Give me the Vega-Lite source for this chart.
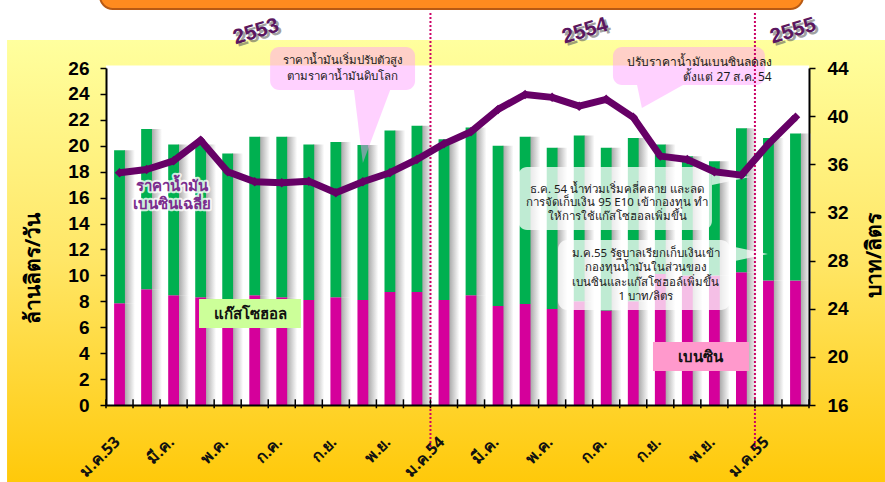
{
  "$schema": "https://vega.github.io/schema/vega-lite/v6.json",
  "width": 703,
  "height": 337,
  "autosize": "none",
  "padding": {"left": 106, "top": 68, "right": 76, "bottom": 77},
  "background": "white",
  "config": {"view": {"stroke": null}},
  "datasets": {
    "months": [
      {"i":0,"benzin":7.85,"gasohol":11.8,"price":35.3},
      {"i":1,"benzin":8.93,"gasohol":12.37,"price":35.57},
      {"i":2,"benzin":8.47,"gasohol":11.63,"price":36.29},
      {"i":3,"benzin":8.31,"gasohol":11.79,"price":38.0},
      {"i":4,"benzin":8.1,"gasohol":11.3,"price":35.38},
      {"i":5,"benzin":8.47,"gasohol":12.23,"price":34.55},
      {"i":6,"benzin":8.31,"gasohol":12.39,"price":34.47},
      {"i":7,"benzin":8.1,"gasohol":12.0,"price":34.6},
      {"i":8,"benzin":8.31,"gasohol":11.99,"price":33.63},
      {"i":9,"benzin":8.1,"gasohol":11.96,"price":34.55},
      {"i":10,"benzin":8.72,"gasohol":12.45,"price":35.3},
      {"i":11,"benzin":8.72,"gasohol":12.83,"price":36.4},
      {"i":12,"benzin":8.1,"gasohol":12.4,"price":37.7},
      {"i":13,"benzin":8.47,"gasohol":12.93,"price":38.7},
      {"i":14,"benzin":7.64,"gasohol":12.36,"price":40.56},
      {"i":15,"benzin":7.79,"gasohol":12.91,"price":41.8},
      {"i":16,"benzin":7.41,"gasohol":12.44,"price":41.56},
      {"i":17,"benzin":8.0,"gasohol":12.8,"price":40.83},
      {"i":18,"benzin":7.3,"gasohol":12.55,"price":41.4},
      {"i":19,"benzin":8.0,"gasohol":12.6,"price":39.9},
      {"i":20,"benzin":10.1,"gasohol":10.0,"price":36.68},
      {"i":21,"benzin":10.0,"gasohol":9.2,"price":36.4},
      {"i":22,"benzin":10.0,"gasohol":8.8,"price":35.38},
      {"i":23,"benzin":10.24,"gasohol":11.11,"price":35.1},
      {"i":24,"benzin":9.6,"gasohol":11.0,"price":37.68},
      {"i":25,"benzin":9.6,"gasohol":11.35,"price":39.9}
    ],
    "boxes": [
      {"kind":"pink","x":6.07,"x2":11.43,"y":27.62,"y2":24.30},
      {"kind":"pink","x":18.75,"x2":24.37,"y":27.62,"y2":24.69},
      {"kind":"note","x":15.24,"x2":22.41,"y":18.36,"y2":13.50},
      {"kind":"note","x":16.72,"x2":23.08,"y":12.73,"y2":7.33}
    ],
    "vptr": [
      {"id":"p1","x":9.17,"y":24.30,"y2":24.30},
      {"id":"p1","x":9.50,"y":24.30,"y2":18.67},
      {"id":"p1","x":10.51,"y":24.30,"y2":24.30},
      {"id":"p2","x":19.64,"y":24.69,"y2":24.69},
      {"id":"p2","x":19.82,"y":24.69,"y2":22.91},
      {"id":"p2","x":21.34,"y":24.69,"y2":24.69}
    ],
    "hptr": [
      {"id":"p3","y":18.05,"x":22.41,"x2":22.41},
      {"id":"p3","y":17.59,"x":22.41,"x2":23.82},
      {"id":"p3","y":16.97,"x":22.41,"x2":22.41},
      {"id":"p4","y":12.27,"x":23.08,"x2":23.08},
      {"id":"p4","y":11.65,"x":23.08,"x2":24.48},
      {"id":"p4","y":11.03,"x":23.08,"x2":23.08}
    ],
    "labelboxes": [
      {"fuel":"แก๊สโซฮอล","x":3.44,"x2":7.21,"y":8.18,"y2":5.94},
      {"fuel":"เบนซิน","x":20.23,"x2":23.78,"y":4.86,"y2":2.62}
    ],
    "notesC": [
      {"x":8.76,"y":26.54,"t":"ราคาน้ำมันเริ่มปรับตัวสูง"},
      {"x":8.76,"y":25.31,"t":"ตามราคาน้ำมันดิบโลก"},
      {"x":18.90,"y":16.62,"t":"ธ.ค. 54 น้ำท่วมเริ่มคลี่คลาย และลด"},
      {"x":18.90,"y":15.55,"t":"การจัดเก็บเงิน 95 E10 เข้ากองทุน ทำ"},
      {"x":18.90,"y":14.47,"t":"ให้การใช้แก๊สโซฮอลเพิ่มขึ้น"},
      {"x":19.97,"y":11.68,"t":"ม.ค.55 รัฐบาลเรียกเก็บเงินเข้า"},
      {"x":19.97,"y":10.57,"t":"กองทุนน้ำมันในส่วนของ"},
      {"x":19.97,"y":9.43,"t":"เบนซินและแก๊สโซฮอล์เพิ่มขึ้น"},
      {"x":19.97,"y":8.31,"t":"1 บาท/ลิตร"}
    ],
    "notesR": [
      {"x":24.62,"y":26.50,"t":"ปรับราคาน้ำมันเบนซินลดลง"},
      {"x":24.62,"y":25.27,"t":"ตั้งแต่ 27 ส.ค. 54"}
    ],
    "seriesLabels": [
      {"x":2.44,"y":16.93,"t":"ราคาน้ำมัน"},
      {"x":2.44,"y":15.48,"t":"เบนซินเฉลี่ย"}
    ],
    "fuelLabels": [
      {"x":5.33,"y":7.02,"t":"แก๊สโซฮอล"},
      {"x":22.0,"y":3.70,"t":"เบนซิน"}
    ],
    "years": [
      {"x":5.55,"y":28.78,"t":"2553"},
      {"x":17.72,"y":28.85,"t":"2554"},
      {"x":25.41,"y":28.85,"t":"2555"}
    ],
    "yearLines": [{"x":12},{"x":24}]
  },
  "layer": [
    {
      "data": {"values": [{}]},
      "layer": [
        {
          "mark": {"type": "rect", "clip": false, "fill": {"gradient": "linear", "x1": 0, "y1": 0, "x2": 0, "y2": 1, "stops": [{"offset": 0, "color": "#FFFF9E"}, {"offset": 0.5, "color": "#FFE666"}, {"offset": 1, "color": "#FFC90A"}]}},
          "encoding": {
            "x": {"datum": -3.66, "type": "quantitative", "scale": {"domain": [0, 26], "nice": false, "zero": false}, "axis": null},
            "x2": {"datum": 28.81},
            "y": {"datum": 28.16, "type": "quantitative", "scale": {"domain": [0, 26], "nice": false, "zero": false}, "axis": null},
            "y2": {"datum": -5.94}
          }
        },
        {
          "mark": {"type": "rect", "clip": false, "fill": "#FF8B1F", "stroke": "#B85A14", "strokeWidth": 2, "cornerRadius": 16},
          "encoding": {
            "x": {"datum": -0.22, "type": "quantitative", "axis": null},
            "x2": {"datum": 25.78},
            "y": {"datum": 32.5, "type": "quantitative", "axis": null},
            "y2": {"datum": 30.55}
          }
        },
        {
          "mark": {"type": "rect", "clip": false, "fill": "white"},
          "encoding": {
            "x": {"datum": 0, "type": "quantitative", "axis": null},
            "x2": {"datum": 26},
            "y": {"datum": 26.19, "type": "quantitative", "axis": null},
            "y2": {"datum": 0}
          }
        }
      ]
    },
    {
      "data": {"name": "months"},
      "transform": [{"fold": ["benzin", "gasohol"], "as": ["fuel", "vol"]}],
      "encoding": {
        "x": {
          "field": "i", "type": "ordinal",
          "scale": {"paddingInner": 0.6, "paddingOuter": 0.3},
          "axis": {
            "orient": "bottom", "title": null, "zindex": 1,
            "labelExpr": "['ม.ค.53','','มี.ค.','','พ.ค.','','ก.ค.','','ก.ย.','','พ.ย.','','ม.ค.54','','มี.ค.','','พ.ค.','','ก.ค.','','ก.ย.','','พ.ย.','','ม.ค.55',''][datum.value]",
            "labelAngle": -45, "labelAlign": "right", "labelBaseline": "middle",
            "labelFont": "Noto Sans", "labelFontSize": 16, "labelFontWeight": "bold", "labelColor": "#111111",
            "labelPadding": 34, "labelOffset": -2, "labelOverlap": false,
            "ticks": false,
            "domainColor": "black", "domainWidth": 2, "grid": false
          }
        },
        "y": {
          "field": "vol", "type": "quantitative", "stack": "zero",
          "scale": {"domain": [0, 26], "nice": false},
          "axis": {
            "orient": "left", "title": "ล้านลิตร/วัน", "zindex": 1, "values": [0,2,4,6,8,10,12,14,16,18,20,22,24,26],
            "titleFont": "Noto Sans", "titleFontSize": 21, "titleFontWeight": "bold", "titleColor": "black",
            "titleAngle": -90, "titleX": -73, "titleY": 200, "titleAlign": "center", "titleBaseline": "middle",
            "labelFont": "Liberation Sans", "labelFontSize": 19, "labelFontWeight": "bold", "labelColor": "black",
            "labelPadding": 11, "tickSize": 6, "tickColor": "black", "tickWidth": 1.5,
            "domainColor": "black", "domainWidth": 2, "grid": false
          }
        },
        "order": {"field": "fuel", "sort": "ascending"}
      },
      "layer": [
        {
          "mark": {"type": "bar", "xOffset": 10, "opacity": 0.8, "fill": {"gradient": "linear", "x1": 0, "y1": 0, "x2": 1, "y2": 0, "stops": [{"offset": 0, "color": "#8c8c8c"}, {"offset": 1, "color": "#ffffff"}]}}
        },
        {
          "mark": {"type": "bar"},
          "encoding": {
            "color": {"field": "fuel", "type": "nominal", "scale": {"domain": ["benzin", "gasohol"], "range": ["#D5009B", "#00B050"]}, "legend": null}
          }
        }
      ]
    },
    {
      "resolve": {"scale": {"fill": "independent", "opacity": "independent"}},
      "layer": [
        {
          "data": {"name": "boxes"},
          "mark": {"type": "rect", "clip": false, "cornerRadius": 9},
          "encoding": {
            "x": {"field": "x", "type": "quantitative", "scale": {"domain": [0, 26], "nice": false, "zero": false}, "axis": null},
            "x2": {"field": "x2"},
            "y": {"field": "y", "type": "quantitative", "scale": {"domain": [0, 26], "nice": false, "zero": false}, "axis": null},
            "y2": {"field": "y2"},
            "fill": {"field": "kind", "type": "nominal", "scale": {"domain": ["pink", "note"], "range": ["#FF99FF", "#FFFFFF"]}, "legend": null},
            "opacity": {"field": "kind", "type": "nominal", "scale": {"domain": ["pink", "note"], "range": [0.45, 0.75]}, "legend": null}
          }
        },
        {
          "data": {"name": "vptr"},
          "mark": {"type": "area", "clip": false, "orient": "vertical", "color": "#FF99FF", "opacity": 0.45},
          "encoding": {
            "x": {"field": "x", "type": "quantitative", "axis": null},
            "y": {"field": "y", "type": "quantitative", "axis": null},
            "y2": {"field": "y2"},
            "detail": {"field": "id"}
          }
        },
        {
          "data": {"name": "hptr"},
          "mark": {"type": "area", "clip": false, "orient": "horizontal", "color": "#FFFFFF", "opacity": 0.75},
          "encoding": {
            "y": {"field": "y", "type": "quantitative", "axis": null},
            "x": {"field": "x", "type": "quantitative", "axis": null},
            "x2": {"field": "x2"},
            "detail": {"field": "id"}
          }
        },
        {
          "data": {"name": "labelboxes"},
          "mark": {"type": "rect", "clip": false},
          "encoding": {
            "x": {"field": "x", "type": "quantitative", "axis": null},
            "x2": {"field": "x2"},
            "y": {"field": "y", "type": "quantitative", "axis": null},
            "y2": {"field": "y2"},
            "fill": {"field": "fuel", "type": "nominal", "scale": {"domain": ["แก๊สโซฮอล", "เบนซิน"], "range": ["#CCFF99", "#FF99CC"]}, "legend": null}
          }
        },
        {
          "data": {"name": "yearLines"},
          "mark": {"type": "rule", "clip": false, "color": "#CC0066", "strokeWidth": 2, "strokeDash": [2, 2]},
          "encoding": {
            "x": {"field": "x", "type": "quantitative", "axis": null},
            "y": {"datum": 30.25, "type": "quantitative", "axis": null},
            "y2": {"datum": -3.24}
          }
        },
        {
          "data": {"name": "months"},
          "mark": {"type": "rule", "clip": false, "color": "black", "strokeWidth": 1.5},
          "encoding": {
            "x": {"field": "i", "type": "quantitative", "axis": null},
            "y": {"datum": 0.44, "type": "quantitative", "axis": null},
            "y2": {"datum": -0.25}
          }
        },
        {
          "data": {"values": [{}]},
          "mark": {"type": "rule", "clip": false, "color": "black", "strokeWidth": 1.5},
          "encoding": {
            "x": {"datum": 26, "type": "quantitative", "axis": null},
            "y": {"datum": 0.44, "type": "quantitative", "axis": null},
            "y2": {"datum": -0.25}
          }
        }
      ]
    },
    {
      "data": {"name": "months"},
      "encoding": {
        "x": {"field": "i", "type": "ordinal", "scale": {"paddingInner": 0, "paddingOuter": 0}, "axis": null},
        "y": {
          "field": "price", "type": "quantitative",
          "scale": {"domain": [16, 44], "nice": false, "zero": false},
          "axis": {
            "orient": "right", "title": "บาท/ลิตร", "zindex": 1, "values": [16,20,24,28,32,36,40,44],
            "titleFont": "Noto Sans", "titleFontSize": 21, "titleFontWeight": "bold", "titleColor": "black",
            "titleAngle": -90, "titleX": 65, "titleY": 187, "titleAlign": "center", "titleBaseline": "middle",
            "labelFont": "Liberation Sans", "labelFontSize": 19, "labelFontWeight": "bold", "labelColor": "black",
            "labelPadding": 12, "tickSize": 6, "tickColor": "black", "tickWidth": 1.5,
            "domainColor": "black", "domainWidth": 2, "grid": false
          }
        }
      },
      "layer": [
        {"mark": {"type": "line", "color": "#660066", "strokeWidth": 7, "strokeJoin": "round"}},
        {"mark": {"type": "point", "shape": "diamond", "filled": true, "color": "#660066", "size": 90, "opacity": 1}}
      ]
    },
    {
      "layer": [
        {
          "data": {"name": "notesC"},
          "mark": {"type": "text", "font": "Noto Sans", "fontSize": 11.5, "color": "#1a1a1a", "align": "center", "baseline": "middle", "clip": false},
          "encoding": {
            "x": {"field": "x", "type": "quantitative", "scale": {"domain": [0, 26], "nice": false, "zero": false}, "axis": null},
            "y": {"field": "y", "type": "quantitative", "scale": {"domain": [0, 26], "nice": false, "zero": false}, "axis": null},
            "text": {"field": "t"}
          }
        },
        {
          "data": {"name": "notesR"},
          "mark": {"type": "text", "font": "Noto Sans", "fontSize": 12, "color": "#1a1a1a", "align": "right", "baseline": "middle", "clip": false},
          "encoding": {
            "x": {"field": "x", "type": "quantitative", "axis": null},
            "y": {"field": "y", "type": "quantitative", "axis": null},
            "text": {"field": "t"}
          }
        },
        {
          "data": {"name": "seriesLabels"},
          "mark": {"type": "text", "font": "Noto Sans", "fontSize": 15, "fontWeight": "bold", "color": "white", "stroke": "white", "strokeWidth": 4, "strokeJoin": "round", "opacity": 0.8, "align": "center", "baseline": "middle", "clip": false},
          "encoding": {
            "x": {"field": "x", "type": "quantitative", "axis": null},
            "y": {"field": "y", "type": "quantitative", "axis": null},
            "text": {"field": "t"}
          }
        },
        {
          "data": {"name": "seriesLabels"},
          "mark": {"type": "text", "font": "Noto Sans", "fontSize": 15, "fontWeight": "bold", "color": "#7B2D8E", "align": "center", "baseline": "middle", "clip": false},
          "encoding": {
            "x": {"field": "x", "type": "quantitative", "axis": null},
            "y": {"field": "y", "type": "quantitative", "axis": null},
            "text": {"field": "t"}
          }
        },
        {
          "data": {"name": "fuelLabels"},
          "mark": {"type": "text", "font": "Noto Sans", "fontSize": 15, "fontWeight": "bold", "color": "#111111", "align": "center", "baseline": "middle", "clip": false},
          "encoding": {
            "x": {"field": "x", "type": "quantitative", "axis": null},
            "y": {"field": "y", "type": "quantitative", "axis": null},
            "text": {"field": "t"}
          }
        },
        {
          "data": {"name": "years"},
          "mark": {"type": "text", "font": "Liberation Sans", "fontSize": 21, "fontWeight": "bold", "color": "#555555", "opacity": 0.55, "angle": -17, "dx": 2, "dy": 3, "align": "center", "baseline": "middle", "clip": false},
          "encoding": {
            "x": {"field": "x", "type": "quantitative", "axis": null},
            "y": {"field": "y", "type": "quantitative", "axis": null},
            "text": {"field": "t"}
          }
        },
        {
          "data": {"name": "years"},
          "mark": {"type": "text", "font": "Liberation Sans", "fontSize": 21, "fontWeight": "bold", "color": "#5B1760", "angle": -17, "align": "center", "baseline": "middle", "clip": false},
          "encoding": {
            "x": {"field": "x", "type": "quantitative", "axis": null},
            "y": {"field": "y", "type": "quantitative", "axis": null},
            "text": {"field": "t"}
          }
        }
      ]
    }
  ],
  "resolve": {"scale": {"x": "independent", "y": "independent"}}
}
